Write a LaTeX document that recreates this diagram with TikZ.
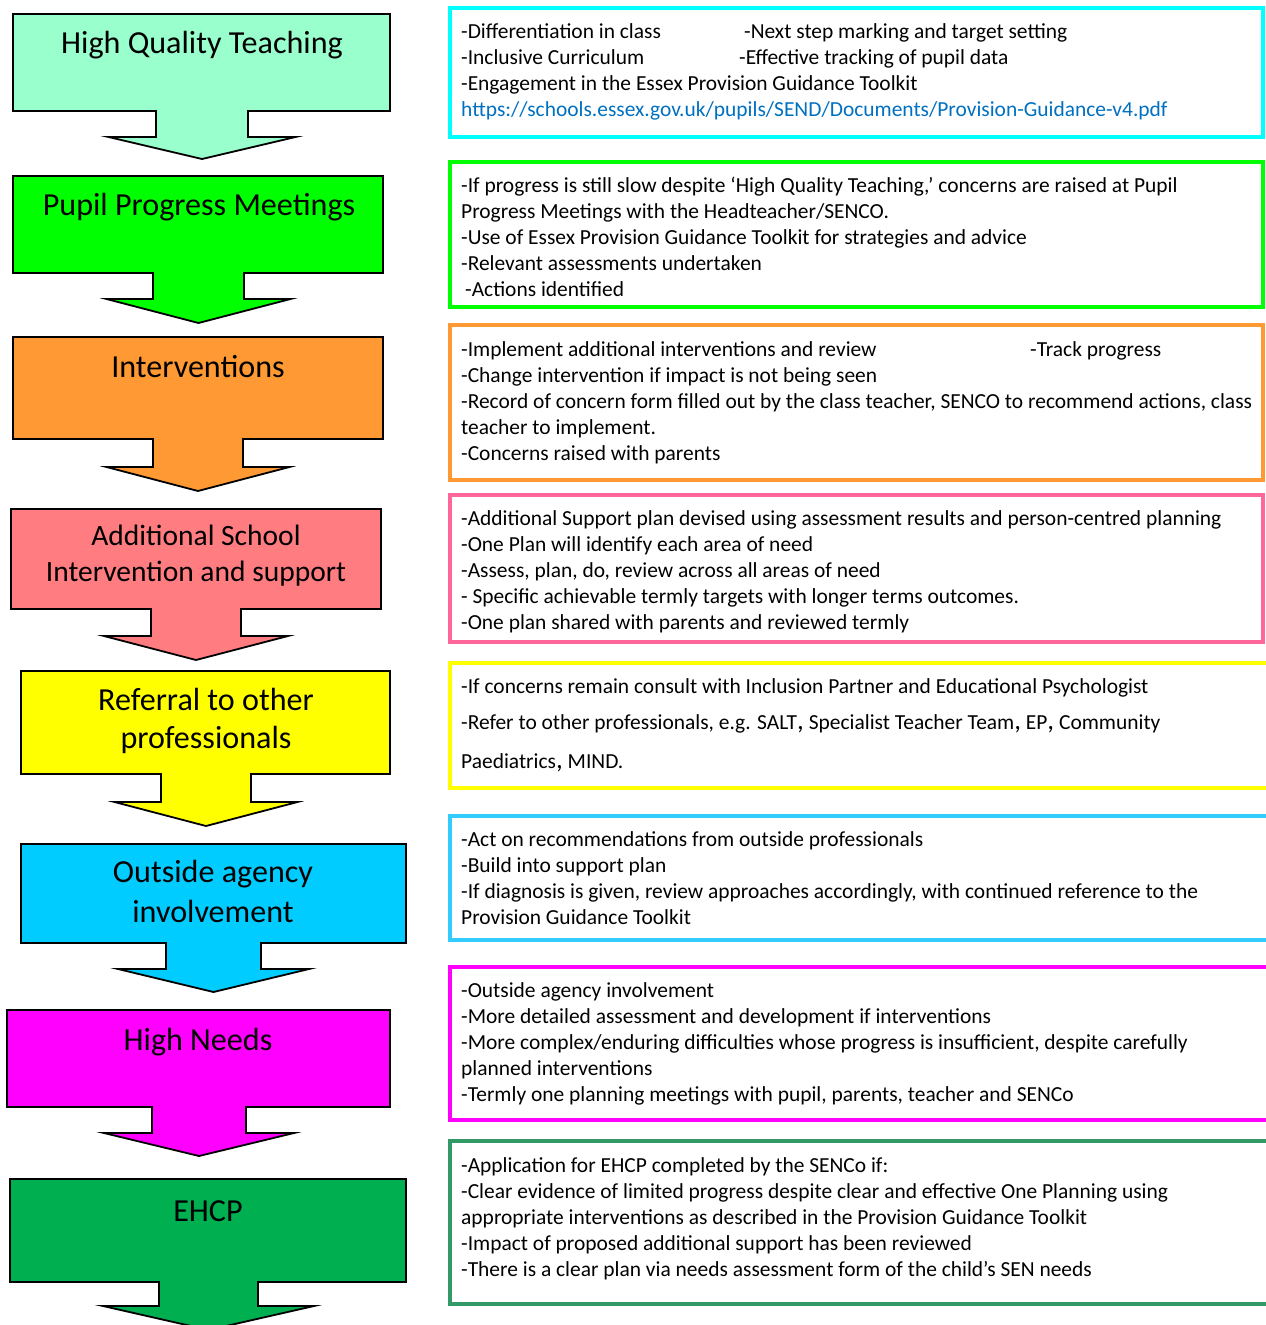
\documentclass[tikz,border=0pt]{standalone}
\usepackage{fontspec}
\setmainfont{Carlito}
\usepackage{tikz}
\definecolor{mint}{HTML}{99FFCC}
\definecolor{lime}{HTML}{00FF00}
\definecolor{tangerine}{HTML}{FF9933}
\definecolor{salmon}{HTML}{FF7C80}
\definecolor{lemon}{HTML}{FFFF00}
\definecolor{sky}{HTML}{00CCFF}
\definecolor{fuchsia}{HTML}{FF00FF}
\definecolor{ehcp}{HTML}{00B050}
\definecolor{aqua}{HTML}{00FFFF}
\definecolor{rose}{HTML}{FF6699}
\definecolor{azure}{HTML}{33CCFF}
\definecolor{sea}{HTML}{339966}
\definecolor{link}{HTML}{0070C0}
\newcommand{\bigcomma}{{\fontsize{27}{27}\selectfont,}}

\begin{document}
\begin{tikzpicture}[x=1pt, y=-1pt,
    stage/.style={font=\fontsize{32.1}{36}\selectfont, align=center, anchor=base, inner sep=0pt},
    note/.style={font=\fontsize{21.45}{26}\selectfont, align=left, anchor=base west, inner sep=0pt},
    frame/.style={line width=4.5pt}]
    \useasboundingbox (0,0) rectangle (1266,1325);

    % block arrows down the left
    \foreach \cl/\xl/\xr/\yt/\yb/\xm/\sw/\ys/\hw/\yp in {
        mint/13/390/14/111/202/46/137/93.5/159,
        lime/13/383/176/273/198.5/45.5/299/92/323,
        tangerine/13/383/337/439/198/45/467/91.5/491,
        salmon/11/381/509/609/196/45/636/92/660,
        lemon/21/390/671/774/206/45/802/91.5/826,
        sky/21/406/844/943/213.5/47.5/969/95.5/992,
        fuchsia/7/390/1010/1107/199/47/1133/95/1156,
        ehcp/10/406/1179/1282/208.5/49.5/1306/105.5/1330}
    {\draw[line width=1.8pt, fill=\cl] (\xl,\yt) -- (\xr,\yt) -- (\xr,\yb) -- (\xm+\sw,\yb)
        -- (\xm+\sw,\ys) -- (\xm+\hw,\ys) -- (\xm,\yp) -- (\xm-\hw,\ys) -- (\xm-\sw,\ys)
        -- (\xm-\sw,\yb) -- (\xl,\yb) -- cycle;}

    % labels sit on the baseline of their last line
    \node[stage] (0) at (202,53) {High Quality Teaching};
    \node[stage] (1) at (199,215) {Pupil Progress Meetings};
    \node[stage] (2) at (198,377) {Interventions};
    \node[stage, font=\fontsize{29.5}{36}\selectfont] (3) at (196,581) {Additional School\\Intervention and support};
    \node[stage, font=\fontsize{32.1}{38}\selectfont] (4) at (206,748) {Referral to other\\professionals};
    \node[stage, font=\fontsize{32.1}{40}\selectfont] (5) at (213,922) {Outside agency\\involvement};
    \node[stage] (6) at (198,1050) {High Needs};
    \node[stage] (7) at (208,1221) {EHCP};

    % coloured frames on the right
    \foreach \cl/\yt/\yb/\xr in {aqua/8/137/1263, lime/162/307/1263, tangerine/325/480/1263,
        rose/495/642/1263, lemon/663/788/1275, azure/816/940/1275,
        fuchsia/967/1120/1275, sea/1141/1304/1275}
    {\draw[frame, \cl] (450,\yt) rectangle (\xr,\yb);}

    \node[note] (n0) at (461,116) {\makebox[283pt][l]{-Differentiation in class}-Next step marking and target setting\\
        \makebox[278pt][l]{-Inclusive Curriculum}-Effective tracking of pupil data\\
        -Engagement in the Essex Provision Guidance Toolkit\\
        \textcolor{link}{https://schools.essex.gov.uk/pupils/SEND/Documents/Provision-Guidance-v4.pdf}};
    \node[note] (n1) at (461,296) {-If progress is still slow despite ‘High Quality Teaching,’ concerns are raised at Pupil\\
        Progress Meetings with the Headteacher/SENCO.\\
        -Use of Essex Provision Guidance Toolkit for strategies and advice\\
        -Relevant assessments undertaken\\
        \hspace*{4pt}-Actions identified};
    \node[note] (n2) at (461,460) {\makebox[569pt][l]{-Implement additional interventions and review}-Track progress\\
        -Change intervention if impact is not being seen\\
        -Record of concern form filled out by the class teacher, SENCO to recommend actions, class\\
        teacher to implement.\\
        -Concerns raised with parents};
    \node[note] (n3) at (461,629) {-Additional Support plan devised using assessment results and person-centred planning\\
        -One Plan will identify each area of need\\
        -Assess, plan, do, review across all areas of need\\
        - Specific achievable termly targets with longer terms outcomes.\\
        -One plan shared with parents and reviewed termly};
    \node[note] (n4) at (461,768) {-If concerns remain consult with Inclusion Partner and Educational Psychologist\\[10pt]
        -Refer to other professionals, e.g. SALT\bigcomma{} Specialist Teacher Team\bigcomma{} EP\bigcomma{} Community\\[13pt]
        Paediatrics\bigcomma{} MIND.};
    \node[note] (n5) at (461,924) {-Act on recommendations from outside professionals\\
        -Build into support plan\\
        -If diagnosis is given, review approaches accordingly, with continued reference to the\\
        Provision Guidance Toolkit};
    \node[note] (n6) at (461,1101) {-Outside agency involvement\\
        -More detailed assessment and development if interventions\\
        -More complex/enduring difficulties whose progress is insufficient, despite carefully\\
        planned interventions\\
        -Termly one planning meetings with pupil, parents, teacher and SENCo};
    \node[note] (n7) at (461,1276) {-Application for EHCP completed by the SENCo if:\\
        -Clear evidence of limited progress despite clear and effective One Planning using\\
        appropriate interventions as described in the Provision Guidance Toolkit\\
        -Impact of proposed additional support has been reviewed\\
        -There is a clear plan via needs assessment form of the child’s SEN needs};
\end{tikzpicture}
\end{document}
